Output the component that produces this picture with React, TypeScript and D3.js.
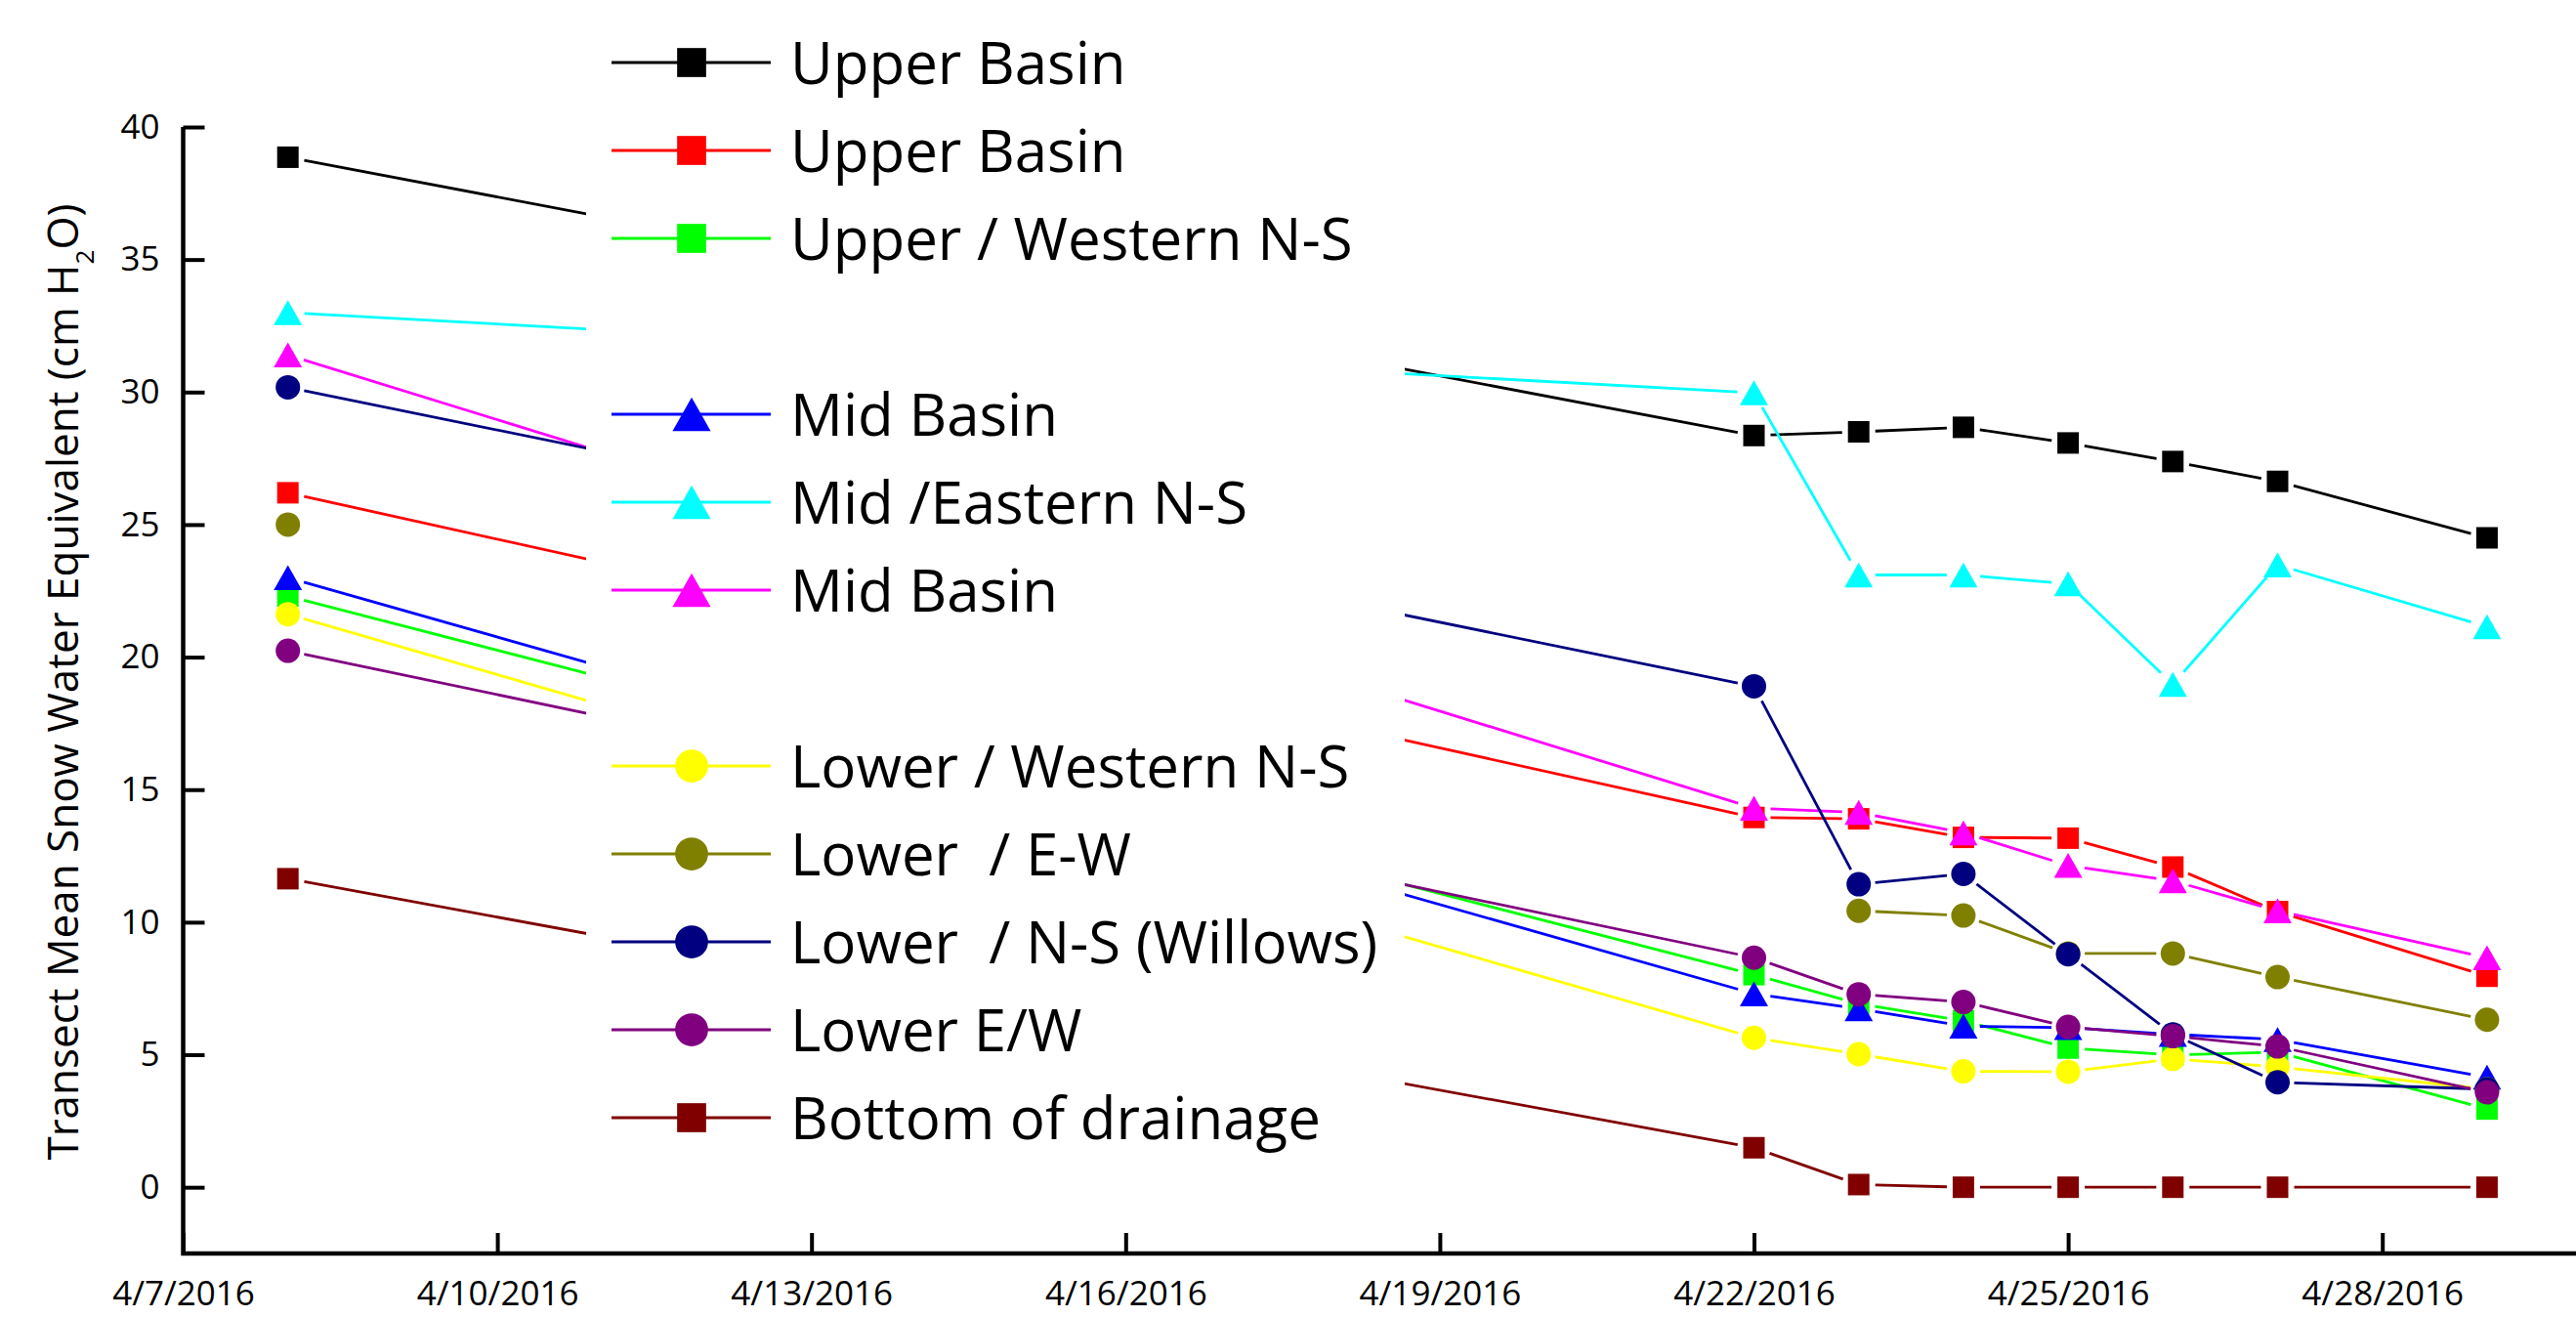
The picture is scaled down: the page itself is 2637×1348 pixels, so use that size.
import React, { useEffect, useRef } from "react";
import * as d3 from "d3";

const W = 2637;
const H = 1348;

// sampling dates
const dates = ["2016-04-08", "2016-04-22", "2016-04-23", "2016-04-24", "2016-04-25", "2016-04-26", "2016-04-27", "2016-04-29"];

// transect mean SWE (cm H2O), null = not sampled
const upperBasin = [38.86, 28.36, 28.5, 28.67, 28.08, 27.38, 26.63, 24.5];
const upperBasinB = [26.2, 13.95, 13.9, 13.2, 13.17, 12.08, 10.4, 7.96];
const upperWesternNS = [22.3, 8.02, 6.92, 6.28, 5.25, 4.99, 5.1, 2.95];
const midBasin = [23.0, 7.3, 6.73, 6.08, 6.02, 5.77, 5.57, 4.15];
const midEasternNS = [33.0, 29.97, 23.1, 23.1, 22.77, 18.97, 23.48, 21.15];
const midBasinB = [31.4, 14.3, 14.14, 13.37, 12.14, 11.56, 10.43, 8.66];
const lowerWesternNS = [21.62, 5.64, 5.02, 4.37, 4.36, 4.84, 4.54, 3.7];
const lowerEW = [25.0, null, 10.43, 10.25, 8.82, 8.82, 7.93, 6.32];
const lowerNSWillows = [30.18, 18.9, 11.43, 11.82, 8.79, 5.77, 3.96, 3.7];
const lowerEWB = [20.24, 8.66, 7.28, 6.99, 6.05, 5.7, 5.31, 3.58];
const bottomDrainage = [11.64, 1.49, 0.1, 0, 0, 0, 0, 0];

const seriesNames = [
  "Upper Basin",
  "Upper Basin",
  "Upper / Western N-S",
  "Mid Basin",
  "Mid /Eastern N-S",
  "Mid Basin",
  "Lower / Western N-S",
  "Lower  / E-W",
  "Lower  / N-S (Willows)",
  "Lower E/W",
  "Bottom of drainage",
];
const seriesValues = [
  upperBasin, upperBasinB, upperWesternNS, midBasin, midEasternNS, midBasinB,
  lowerWesternNS, lowerEW, lowerNSWillows, lowerEWB, bottomDrainage,
];
const seriesColors = [
  "#000000", "#ff0000", "#00ff00", "#0000ff", "#00ffff", "#ff00ff",
  "#ffff00", "#808000", "#000080", "#800080", "#800000",
];
const seriesShapes = [
  "square", "square", "square", "triangle", "triangle", "triangle",
  "circle", "circle", "circle", "circle", "square",
];
// legend groups (blank row between groups)
const legendGroup = [0, 0, 0, 1, 1, 1, 2, 2, 2, 2, 2];

const FONT = "'Open Sans', 'Noto Sans', sans-serif";

const marker = (shape: string, k: number) => {
  if (shape === "square") {
    const s = 22 * k;
    return `M${-s / 2},${-s / 2}h${s}v${s}h${-s}Z`;
  }
  if (shape === "triangle") {
    const w = 29 * k;
    const h = 25.5 * k;
    return `M0,${-h / 2}L${w / 2},${h / 2}L${-w / 2},${h / 2}Z`;
  }
  const r = 12.5 * k;
  return d3.symbol(d3.symbolCircle, Math.PI * r * r)() as string;
};

const App = () => {
  const ref = useRef<SVGSVGElement>(null);

  useEffect(() => {
    drawChart();
  }, []);

  const drawChart = () => {
    const svg = d3.select(ref.current);
    svg.selectAll("*").remove();

    const parse = d3.utcParse("%Y-%m-%d");
    const x0 = 187.5;
    const day = 107.2;
    const x = d3
      .scaleUtc()
      .domain([parse("2016-04-07") as Date, parse("2016-04-30") as Date])
      .range([x0, x0 + 23 * day]);
    const y = d3.scaleLinear().domain([-2.5, 40]).range([1283, 130]);
    const yBase = y(-2.5);

    svg.append("rect").attr("width", W).attr("height", H).attr("fill", "#fff");

    // series
    const GAP = 17;
    seriesValues.forEach((vals, si) => {
      const color = seriesColors[si];
      const pts = vals.map((v, i) =>
        v == null ? null : [x(parse(dates[i]) as Date), y(v)]
      );
      const g = svg.append("g");
      for (let i = 0; i < pts.length - 1; i++) {
        const a = pts[i];
        const b = pts[i + 1];
        if (!a || !b) continue;
        const dx = b[0] - a[0];
        const dy = b[1] - a[1];
        const L = Math.hypot(dx, dy);
        if (L < 2 * GAP) continue;
        const ux = dx / L;
        const uy = dy / L;
        g.append("line")
          .attr("x1", a[0] + ux * GAP)
          .attr("y1", a[1] + uy * GAP)
          .attr("x2", b[0] - ux * GAP)
          .attr("y2", b[1] - uy * GAP)
          .attr("stroke", color)
          .attr("stroke-width", 2.8);
      }
      pts.forEach((p) => {
        if (!p) return;
        g.append("path")
          .attr("d", marker(seriesShapes[si], 1))
          .attr("transform", `translate(${p[0]},${p[1]})`)
          .attr("fill", color);
      });
    });

    // legend box (opaque, covers the lines)
    svg.append("rect")
      .attr("x", 600)
      .attr("y", 0)
      .attr("width", 838)
      .attr("height", 1235)
      .attr("fill", "#fff");

    const lg = svg.append("g");
    seriesNames.forEach((name, i) => {
      const ry = 64 + 90 * (i + legendGroup[i]);
      lg.append("line")
        .attr("x1", 626)
        .attr("x2", 789)
        .attr("y1", ry)
        .attr("y2", ry)
        .attr("stroke", seriesColors[i])
        .attr("stroke-width", 2.8);
      lg.append("path")
        .attr("d", marker(seriesShapes[i], 1.35))
        .attr("transform", `translate(708,${ry})`)
        .attr("fill", seriesColors[i]);
      lg.append("text")
        .attr("x", 809)
        .attr("y", ry + 22)
        .attr("font-family", FONT)
        .attr("font-size", 60)
        .attr("fill", "#000")
        .style("white-space", "pre")
        .text(name);
    });

    // x axis
    const majorX = d3.utcDay.every(3)!.range(x.domain()[0], x.domain()[1]);
    const minorX = d3.utcDay.range(x.domain()[0], x.domain()[1]);
    const fmt = d3.utcFormat("%-m/%-d/%Y");

    const gx = svg.append("g").attr("transform", `translate(0,${yBase})`);
    gx.call(
      d3.axisBottom(x)
        .tickValues(minorX)
        .tickSizeInner(-11)
        .tickSizeOuter(0)
        .tickFormat(() => "")
    );
    gx.call(
      d3.axisBottom(x)
        .tickValues(majorX)
        .tickSizeInner(-21)
        .tickSizeOuter(0)
        .tickPadding(28)
        .tickFormat((d) => fmt(d as Date))
    );
    const gy = svg.append("g").attr("transform", `translate(${x0},0)`);
    gy.call(
      d3.axisLeft(y)
        .tickValues(d3.range(2.5, 40, 5))
        .tickSizeInner(-13)
        .tickSizeOuter(0)
        .tickFormat(() => "")
    );
    gy.call(
      d3.axisLeft(y)
        .tickValues(d3.range(0, 41, 5))
        .tickSizeInner(-22)
        .tickSizeOuter(0)
        .tickPadding(24)
        .tickFormat(d3.format("d"))
    );
    svg.selectAll(".domain").remove();
    svg.selectAll(".tick line").attr("stroke", "#000").attr("stroke-width", 4);
    svg.selectAll(".tick text")
      .attr("font-family", FONT)
      .attr("font-size", 35)
      .attr("fill", "#000");

    // axis lines
    svg.append("path")
      .attr("d", `M${x0},${y(40)}V${yBase}H${W + 10}`)
      .attr("fill", "none")
      .attr("stroke", "#000")
      .attr("stroke-width", 4.5)
      .attr("stroke-linejoin", "miter");

    // y title
    const t = svg.append("text")
      .attr("transform", `translate(80,698) rotate(-90)`)
      .attr("text-anchor", "middle")
      .attr("font-family", FONT)
      .attr("font-size", 44)
      .attr("fill", "#000");
    t.append("tspan").text("Transect Mean Snow Water Equivalent (cm H");
    t.append("tspan").attr("font-size", 26).attr("dy", 16).text("2");
    t.append("tspan").attr("dy", -16).text("O)");
  };

  return (
    <svg
      ref={ref}
      width={W}
      height={H}
      style={{ position: "absolute", left: 0, top: 0 }}
    />
  );
};

export default App;
